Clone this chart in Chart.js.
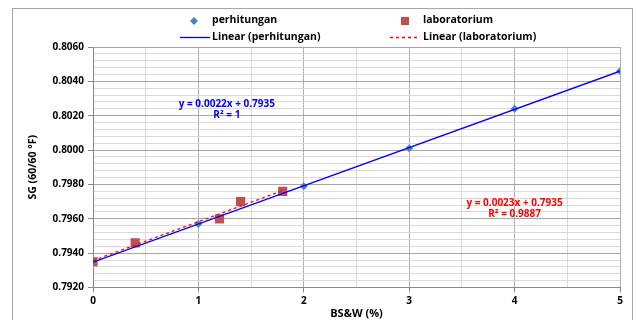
<!DOCTYPE html>
<html>
<head>
<meta charset="utf-8">
<script src="https://cdn.jsdelivr.net/npm/chart.js@4.4.0/dist/chart.umd.min.js"></script>
<style>
  html, body { margin: 0; padding: 0; background: #fff; }
  #wrap { width: 636px; height: 320px; position: relative; }
</style>
</head>
<body>
<div id="wrap"><canvas id="sgChart" width="636" height="320"></canvas></div>
<script>
// --- data ---
const perhitunganX = [0, 1, 2, 3, 4, 5];
const perhitunganY = [0.7935, 0.7957, 0.7979, 0.8001, 0.8024, 0.8046];
const labX = [0, 0.4, 1.2, 1.4, 1.8];
const labY = [0.7935, 0.7946, 0.7960, 0.7970, 0.7976];
const xTickLabels = ["0", "1", "2", "3", "4", "5"];
const yTickLabels = ["0.7920", "0.7940", "0.7960", "0.7980", "0.8000", "0.8020", "0.8040", "0.8060"];
const eqPerhitungan = ["y = 0.0022x + 0.7935", "R\u00b2 = 1"];
const eqLab = ["y = 0.0023x + 0.7935", "R\u00b2 = 0.9887"];

const FONT = "'Open Sans', sans-serif";

// least squares fit for the trendlines
function linFit(xs, ys) {
  const n = xs.length;
  const mx = xs.reduce((a, b) => a + b, 0) / n;
  const my = ys.reduce((a, b) => a + b, 0) / n;
  let sxy = 0, sxx = 0;
  for (let i = 0; i < n; i++) {
    sxy += (xs[i] - mx) * (ys[i] - my);
    sxx += (xs[i] - mx) * (xs[i] - mx);
  }
  const m = sxy / sxx;
  return { m: m, b: my - m * mx };
}
const fitP = linFit(perhitunganX, perhitunganY);
const fitL = linFit(labX, labY);
const xEndP = Math.max(...perhitunganX);
const xEndL = Math.max(...labX);

const toPts = (xs, ys) => xs.map((x, i) => ({ x: x, y: ys[i] }));

const yMin = Number(yTickLabels[0]);
const yMax = Number(yTickLabels[yTickLabels.length - 1]);
const yMajor = Number(yTickLabels[1]) - yMin;
const yMinorPerMajor = 5;

// frame, legend and equation texts
const decorPlugin = {
  id: "decor",
  beforeDraw(chart) {
    const c = chart.ctx;
    c.save();
    c.fillStyle = "#fff";
    c.fillRect(0, 0, chart.width, chart.height);
    c.strokeStyle = "#a6a6a6";
    c.lineWidth = 1;
    c.strokeRect(12.5, 8.5, 620, 400);
    c.restore();
  },
  afterDraw(chart) {
    const c = chart.ctx;
    c.save();
    c.font = "bold 10.5px " + FONT;
    c.textBaseline = "middle";
    // row 1
    c.fillStyle = "#4f81bd";
    c.beginPath();
    c.moveTo(194, 17); c.lineTo(198, 21); c.lineTo(194, 25); c.lineTo(190, 21);
    c.closePath(); c.fill();
    c.fillStyle = "#c0504d";
    c.fillRect(401, 17, 8, 8);
    c.fillStyle = "#000";
    c.fillText("perhitungan", 212, 20.5);
    c.fillText("laboratorium", 423, 20.5);
    // row 2
    c.lineWidth = 1.3;
    c.strokeStyle = "#0000ff";
    c.beginPath(); c.moveTo(180, 37.5); c.lineTo(210, 37.5); c.stroke();
    c.strokeStyle = "#ff0000";
    c.setLineDash([3, 3]);
    c.beginPath(); c.moveTo(390, 37.5); c.lineTo(419, 37.5); c.stroke();
    c.setLineDash([]);
    c.fillText("Linear (perhitungan)", 212, 37);
    c.fillText("Linear (laboratorium)", 423, 37);

    // trendline equations, placed in data coordinates
    const xs = chart.scales.x, ys = chart.scales.y;
    c.font = "bold 10px " + FONT;
    c.textAlign = "center";
    c.fillStyle = "#0000ff";
    let px = xs.getPixelForValue(1.27), py = ys.getPixelForValue(0.80267);
    c.fillText(eqPerhitungan[0], px, py);
    c.fillText(eqPerhitungan[1], px, py + 10.5);
    c.fillStyle = "#ff0000";
    px = xs.getPixelForValue(4.0); py = ys.getPixelForValue(0.7969);
    c.fillText(eqLab[0], px, py);
    c.fillText(eqLab[1], px, py + 10.5);
    c.restore();
  }
};

const ctx = document.getElementById("sgChart").getContext("2d");
const sgChart = new Chart(ctx, {
  type: "scatter",
  data: {
    datasets: [
      {
        label: "Linear (laboratorium)",
        type: "line",
        data: [{ x: 0, y: fitL.b }, { x: xEndL, y: fitL.m * xEndL + fitL.b }],
        borderColor: "#ff0000",
        borderWidth: 1.3,
        borderDash: [3, 3],
        pointRadius: 0,
        fill: false,
        order: 0
      },
      {
        label: "Linear (perhitungan)",
        type: "line",
        data: [{ x: 0, y: fitP.b }, { x: xEndP, y: fitP.m * xEndP + fitP.b }],
        borderColor: "#0000ff",
        borderWidth: 1.3,
        pointRadius: 0,
        fill: false,
        order: 1
      },
      {
        label: "perhitungan",
        data: toPts(perhitunganX, perhitunganY),
        pointStyle: "rectRot",
        pointRadius: 4,
        backgroundColor: "#4f81bd",
        borderColor: "#4f81bd",
        borderWidth: 0,
        order: 2
      },
      {
        label: "laboratorium",
        data: toPts(labX, labY),
        pointStyle: "rect",
        pointRadius: 6.5,
        backgroundColor: "#c0504d",
        borderColor: "#c0504d",
        borderWidth: 0,
        order: 3
      }
    ]
  },
  options: {
    responsive: false,
    animation: false,
    layout: { padding: { top: 47, right: 16, left: 0, bottom: 0 } },
    plugins: { legend: { display: false }, tooltip: { enabled: false } },
    scales: {
      x: {
        type: "linear",
        min: 0,
        max: xTickLabels.length - 1,
        ticks: {
          stepSize: 0.5,
          autoSkip: false,
          maxRotation: 0,
          padding: 3,
          color: "#000",
          font: { family: FONT, size: 10, weight: "bold" },
          callback: (v) => (Number.isInteger(v) ? xTickLabels[v] : "")
        },
        grid: {
          color: (c) => (c.index % 2 === 0 ? "#b0b0b0" : "#d9d9d9"),
          tickColor: (c) => (c.index % 2 === 0 ? "#888" : "rgba(0,0,0,0)"),
          tickLength: 5
        },
        border: { color: "#888" },
        title: {
          display: true,
          text: "BS&W (%)",
          color: "#000",
          font: { family: FONT, size: 11, weight: "bold" },
          padding: { top: 0, bottom: 0 }
        },
        afterFit: (axis) => { axis.height = 32.5; }
      },
      y: {
        type: "linear",
        min: yMin,
        max: yMax,
        afterBuildTicks: (axis) => {
          const n = (yTickLabels.length - 1) * yMinorPerMajor;
          const t = [];
          for (let i = 0; i <= n; i++) t.push({ value: yMin + (i * yMajor) / yMinorPerMajor });
          axis.ticks = t;
        },
        ticks: {
          autoSkip: false,
          padding: 4,
          color: "#000",
          font: { family: FONT, size: 10, weight: "bold" },
          callback: (v, i) => (i % yMinorPerMajor === 0 ? yTickLabels[i / yMinorPerMajor] : "")
        },
        grid: {
          color: (c) => (c.index % yMinorPerMajor === 0 ? "#a6a6a6" : "#d9d9d9"),
          tickColor: (c) => (c.index % yMinorPerMajor === 0 ? "#888" : "rgba(0,0,0,0)"),
          tickLength: 5
        },
        border: { color: "#888" },
        title: {
          display: true,
          text: "SG (60/60 \u00b0F)",
          color: "#000",
          font: { family: FONT, size: 10.5, weight: "bold" },
          padding: { top: 27, bottom: 0 }
        },
        afterFit: (axis) => { axis.width = 93; }
      }
    }
  },
  plugins: [decorPlugin]
});
</script>
</body>
</html>
